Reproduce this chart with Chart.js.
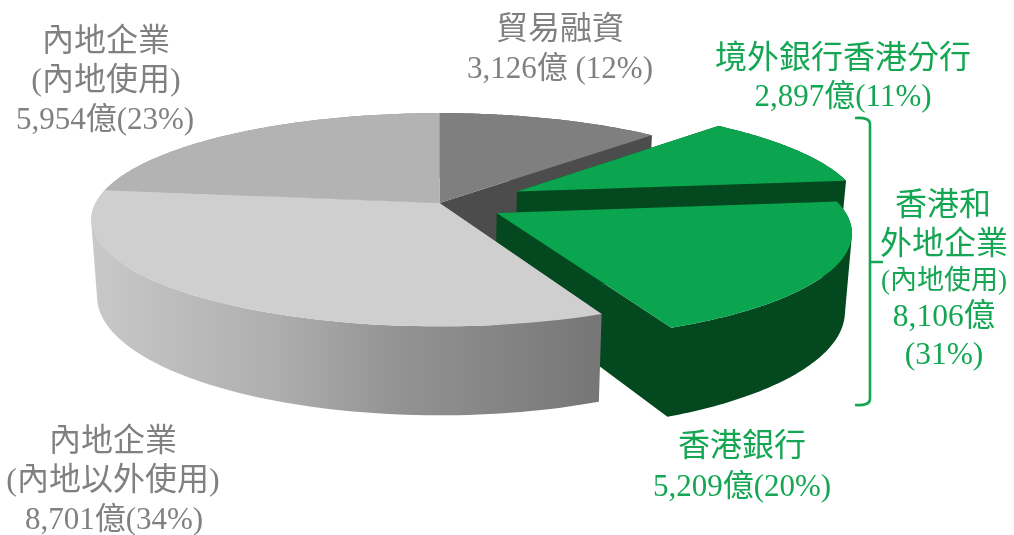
<!DOCTYPE html>
<html><head><meta charset="utf-8">
<script src="https://cdn.jsdelivr.net/npm/chart.js@4"></script>
<style>html,body{margin:0;padding:0;background:#fff}canvas{display:block}</style>
</head><body><canvas id="c" width="1014" height="535"></canvas>
<script>
const categories = ["貿易融資","境外銀行香港分行","香港銀行","內地企業(內地以外使用)","內地企業(內地使用)"];
const values = [3126,2897,5209,8701,5954];
const offsets = [0,46,34,0,0];
const topColors = ["#7f7f7f","#0aa54e","#0aa54e","#cfcfcf","#b3b3b3"];
const sideColors = ["#4c4c4c","#03481f","#03481f",null,"#8c8c8c"];
const drawOrder = [0,4,1,2,3];
const GREY = "#808080", GREEN = "#14a652";
const FONT = '"Liberation Serif","Noto Sans CJK TC",serif';
const labels = [
 ["貿易融資",560,31,32,GREY],["3,126億 (12%)",560,70,31,GREY],
 ["境外銀行香港分行",843,60,32,GREEN],["2,897億(11%)",843,98,31,GREEN],
 ["香港和",943,207,32,GREEN],["外地企業",944,246,32,GREEN],["(內地使用)",944,282,27,GREEN],
 ["8,106億",944,318,31.5,GREEN],["(31%)",944,356,31.5,GREEN],
 ["香港銀行",742,448,32,GREEN],["5,209億(20%)",742,488,31,GREEN],
 ["內地企業",106,43,32,GREY],["(內地使用)",106,82,32,GREY],["5,954億(23%)",105,121,31,GREY],
 ["內地企業",113,443,32,GREY],["(內地以外使用)",113,482,32,GREY],["8,701億(34%)",114,521,31,GREY]
];
const RX = 344, A = 104, B = 0.157, H = 75, BASE = 0.983;

function project(X, T, cx, cy, low){
  const d = 1 + B*T;
  let x = RX*X/d, y = -A*T/d;
  if(low){ x *= BASE; y += H/d; }
  return [cx + x, cy + y];
}
function rimPoints(arc, low, dx, dt){
  const pts = [], a0 = arc.startAngle + Math.PI/2, a1 = arc.endAngle + Math.PI/2, n = 80;
  for(let i=0;i<=n;i++){
    const th = a0 + (a1-a0)*i/n;
    pts.push(project(Math.sin(th)+dx, Math.cos(th)+dt, arc.x, arc.y, low));
  }
  return pts;
}
function area(p){
  let s = 0;
  p.forEach((q,i)=>{ const r = p[(i+1)%p.length]; s += q[0]*r[1]-r[0]*q[1]; });
  return s;
}
function addPoly(ctx, pts){
  const p = area(pts) < 0 ? pts.slice().reverse() : pts;
  p.forEach((q,i)=> i ? ctx.lineTo(q[0],q[1]) : ctx.moveTo(q[0],q[1]));
  ctx.closePath();
}
function fillPolys(ctx, polys, fill){
  ctx.beginPath();
  polys.forEach(p=>addPoly(ctx,p));
  ctx.fillStyle = fill;
  ctx.fill();
}
const pie3d = {
  id:"pie3d",
  beforeDatasetsDraw(chart){
    const ctx = chart.ctx, arcs = chart.getDatasetMeta(0).data;
    const wall = ctx.createLinearGradient(95,0,600,0);
    wall.addColorStop(0,"#c8c8c8"); wall.addColorStop(0.35,"#afafaf");
    wall.addColorStop(0.6,"#939393"); wall.addColorStop(1,"#767676");
    ctx.save();
    drawOrder.forEach(i=>{
      const arc = arcs[i], mid = (arc.startAngle+arc.endAngle)/2 + Math.PI/2;
      const d = offsets[i]/arc.outerRadius, dx = d*Math.sin(mid), dt = d*Math.cos(mid);
      const top = rimPoints(arc,false,dx,dt), low = rimPoints(arc,true,dx,dt);
      const apexTop = project(dx,dt,arc.x,arc.y,false), apexLow = project(dx,dt,arc.x,arc.y,true);
      const side = sideColors[i] || wall;
      const polys = [[apexTop,top[0],low[0],apexLow],[apexTop,top[top.length-1],low[low.length-1],apexLow]];
      for(let k=0;k<top.length-1;k++) polys.push([top[k],top[k+1],low[k+1],low[k]]);
      fillPolys(ctx,polys,side);
      fillPolys(ctx,[[apexTop].concat(top)],topColors[i]);
    });
    ctx.restore();
    return false;
  },
  afterDraw(chart){
    const ctx = chart.ctx;
    ctx.save();
    ctx.strokeStyle = GREEN; ctx.lineWidth = 2.6; ctx.lineJoin = "round";
    ctx.beginPath();
    ctx.moveTo(855,118); ctx.quadraticCurveTo(870,117,870,124);
    ctx.lineTo(870,399); ctx.quadraticCurveTo(870,406,855,405);
    ctx.moveTo(870,262); ctx.lineTo(883,262);
    ctx.stroke();
    ctx.textAlign = "center"; ctx.textBaseline = "middle";
    labels.forEach(l=>{
      ctx.font = l[3]+"px "+FONT; ctx.fillStyle = l[4];
      ctx.fillText(l[0],l[1],l[2]);
    });
    ctx.restore();
  }
};
new Chart(document.getElementById("c"),{
  type:"pie",
  data:{labels:categories,datasets:[{data:values,backgroundColor:topColors,offset:offsets,borderWidth:0}]},
  options:{
    responsive:false,animation:false,devicePixelRatio:1,
    layout:{padding:{left:0,top:0,right:135,bottom:129}},
    plugins:{legend:{display:false},tooltip:{enabled:false}}
  },
  plugins:[pie3d]
});
</script></body></html>
